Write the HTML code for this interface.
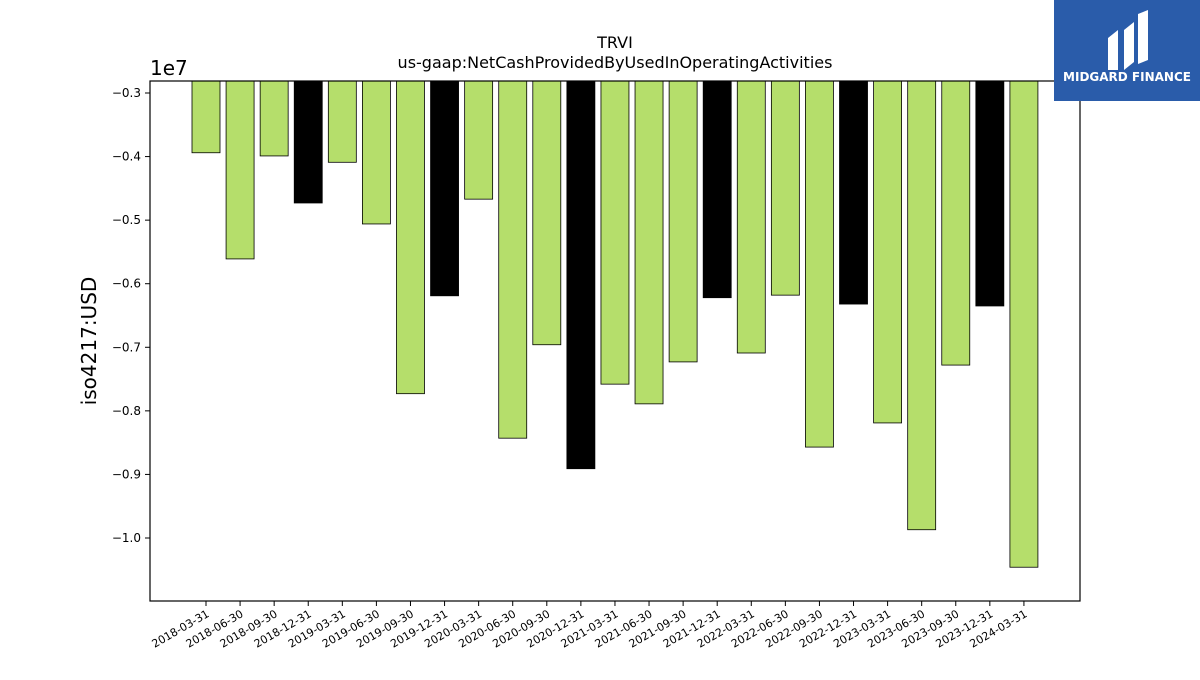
<!DOCTYPE html>
<html><head><meta charset="utf-8"><style>
body{margin:0;background:#fff;font-family:"Liberation Sans","DejaVu Sans",sans-serif}
svg text{font-family:"DejaVu Sans","Liberation Sans",sans-serif}
</style></head><body>
<svg id="c" width="1200" height="675" viewBox="0 0 1200 675">
<text x="615" y="48" font-size="16" text-anchor="middle">TRVI</text>
<text x="615" y="68" font-size="16" text-anchor="middle">us-gaap:NetCashProvidedByUsedInOperatingActivities</text>
<text x="150" y="75" font-size="20">1e7</text>
<text transform="translate(96,341) rotate(-90)" font-size="20" text-anchor="middle">iso4217:USD</text>
<g id="bars"></g><g id="yt"></g><g id="xt"></g>
<rect x="150" y="81" width="930" height="520" fill="none" stroke="#000" stroke-width="1.2"/>
<g>
<rect x="1054" y="0" width="146" height="101" fill="#2a5caa"/>
<path d="M1108 70 V38 L1118 30 V70 Z M1124 70 V30 L1134 22 V62 Z M1138 64 V14 L1148 10 V60 Z" fill="#fff"/>
<text x="1127" y="81" font-size="12" font-weight="bold" fill="#fff" text-anchor="middle">MIDGARD FINANCE</text>
</g>
</svg>
<script>
const categories=["2018-03-31","2018-06-30","2018-09-30","2018-12-31","2019-03-31","2019-06-30","2019-09-30","2019-12-31","2020-03-31","2020-06-30","2020-09-30","2020-12-31","2021-03-31","2021-06-30","2021-09-30","2021-12-31","2022-03-31","2022-06-30","2022-09-30","2022-12-31","2023-03-31","2023-06-30","2023-09-30","2023-12-31","2024-03-31"];
const values=[-0.394,-0.561,-0.399,-0.473,-0.409,-0.506,-0.773,-0.619,-0.467,-0.843,-0.696,-0.891,-0.758,-0.789,-0.723,-0.622,-0.709,-0.618,-0.857,-0.632,-0.819,-0.987,-0.728,-0.635,-1.046];
const yTicks=[-0.3,-0.4,-0.5,-0.6,-0.7,-0.8,-0.9,-1.0];
const yTickLabels=["\u22120.3","\u22120.4","\u22120.5","\u22120.6","\u22120.7","\u22120.8","\u22120.9","\u22121.0"];
const NS="http://www.w3.org/2000/svg";
const y=v=>93+(-0.3-v)*635.7;
const x=i=>206+i*34.08;
const bw=28;
function mk(t,a,p){const e=document.createElementNS(NS,t);for(const k in a)e.setAttribute(k,a[k]);p.appendChild(e);return e;}
const bars=document.getElementById('bars'),yt=document.getElementById('yt'),xt=document.getElementById('xt');
values.forEach((v,i)=>{
 const top=81;
 const r=mk('rect',{x:x(i)-bw/2,y:top,width:bw,height:y(v)-top,fill:categories[i].endsWith('12-31')?'#000':'#b5de6b',stroke:'#000','stroke-width':0.8},bars);
 
 
 const tk=mk('line',{x1:x(i),x2:x(i),y1:601,y2:606,stroke:'#000'},xt);
 
 
 const t=mk('text',{transform:`translate(${x(i)+4},616) rotate(-30)`,'font-size':11,'text-anchor':'end'},xt);
 t.textContent=categories[i];
 
 
});
yTicks.forEach((v,i)=>{
 const tk=mk('line',{x1:145,x2:150,y1:y(v),y2:y(v),stroke:'#000'},yt);
 
 
 const t=mk('text',{x:141,y:y(v)+4,'font-size':12,'text-anchor':'end'},yt);
 t.textContent=yTickLabels[i];
 
 
});
</script>
</body></html>
